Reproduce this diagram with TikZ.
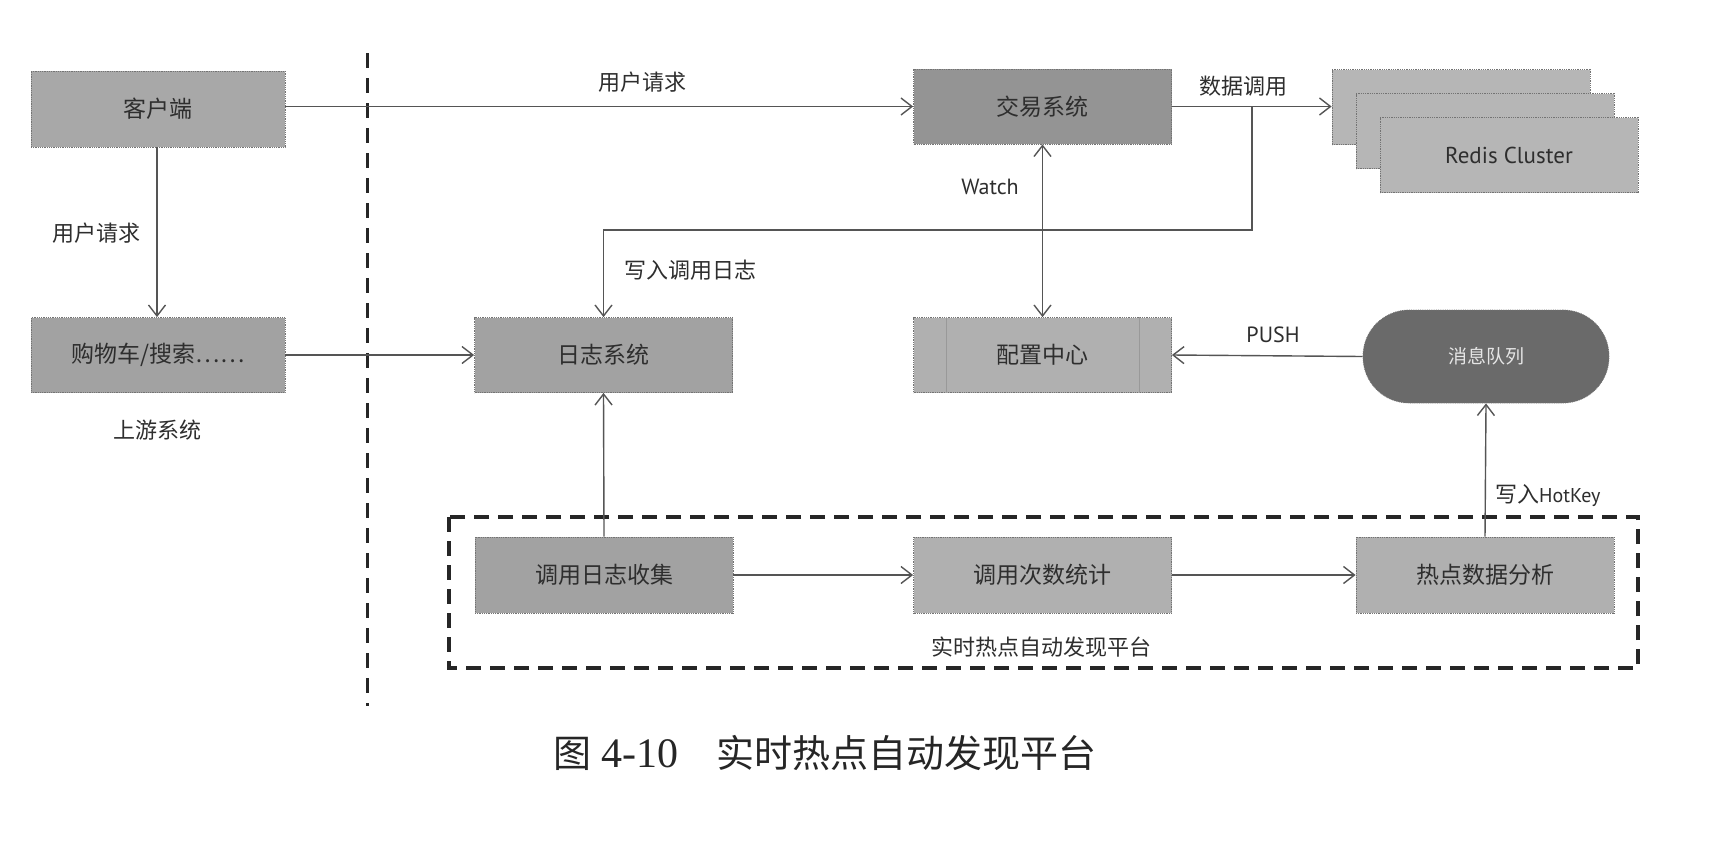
\documentclass[tikz,border=0pt]{standalone}
\usepackage{fontspec}
\setmainfont{Noto Sans CJK SC}
\newfontfamily\latin{PT Sans}
\newfontfamily\capserif{Liberation Serif}
\usetikzlibrary{arrows.meta}

\definecolor{ink}{HTML}{2E2E2E}
\definecolor{edge}{HTML}{555555}
\definecolor{fillA}{HTML}{A8A8A8}
\definecolor{fillB}{HTML}{949494}
\definecolor{fillC}{HTML}{A2A2A2}
\definecolor{fillD}{HTML}{B0B0B0}
\definecolor{fillE}{HTML}{B6B6B6}
\definecolor{fillMQ}{HTML}{6A6A6A}

\tikzset{
  box/.style={draw=black!55, densely dotted, line width=0.8pt,
    minimum width=258pt, minimum height=75pt, inner sep=0pt,
    text=ink, font=\fontsize{23}{26}\selectfont},
  lab/.style={text=ink, inner sep=1pt, font=\fontsize{22}{25}\selectfont},
  conn/.style={draw=edge, line width=1.4pt,
    -{Straight Barb[length=11pt,width=17pt]}},
  both/.style={draw=edge, line width=1.4pt,
    {Straight Barb[length=11pt,width=17pt]}-{Straight Barb[length=11pt,width=17pt]}},
  divider/.style={draw=black!85, line width=3pt, dash pattern=on 15pt off 10pt},
  framebox/.style={draw=black!85, line width=3.5pt, dash pattern=on 15pt off 9pt},
}

\begin{document}
\begin{tikzpicture}[x=1pt,y=-1pt]
\useasboundingbox[fill=white] (0,0) rectangle (1720,854);

% dividing line between the upstream systems and the platform side
\draw[divider] (367,53) -- (367,706);

% dashed frame of the hot-key discovery platform
\draw[framebox] (449,517) rectangle (1638,668);

% upstream side
\node[box, fill=fillA, minimum width=254pt, minimum height=76pt] (client) at (158,109) {客户端};
\node[box, fill=fillC, minimum width=254pt] (cart) at (158,355) {购物车/搜索……};

% core systems
\node[box, fill=fillB] (trade) at (1042.5,106.5) {交易系统};
\node[box, fill=fillC] (log) at (603.5,355) {日志系统};
\node[box, fill=fillD] (config) at (1042.5,355) {配置中心};
\draw[black!40, line width=0.6pt] ([xshift=33pt]config.north west) -- ([xshift=33pt]config.south west);
\draw[black!40, line width=0.6pt] ([xshift=-33pt]config.north east) -- ([xshift=-33pt]config.south east);

% redis cluster, three stacked instances
\node[box, fill=fillE] (r1) at (1461,107) {};
\node[box, fill=fillE] (r2) at (1485,131) {};
\node[box, fill=fillE] (r3) at (1509,155) {\latin Redis Cluster};

% message queue
\node[box, fill=fillMQ, text=black!10, rounded corners=46pt, minimum width=246pt, minimum height=93pt,
  font=\fontsize{19}{22}\selectfont] (mq) at (1486,356.5) {消息队列};

% platform stages
\node[box, fill=fillC, minimum height=76pt] (collect) at (604,575) {调用日志收集};
\node[box, fill=fillD, minimum height=76pt] (count) at (1042.5,575) {调用次数统计};
\node[box, fill=fillD, minimum height=76pt] (hot) at (1485,575) {热点数据分析};

% connectors
\draw[conn] (client.east |- trade.west) -- (trade.west);
\draw[conn] (client.south -| 157,0) -- (cart.north -| 157,0);
\draw[conn] (cart.east) -- (log.west);
\draw[conn] (trade.east) -- (trade.east -| r1.west);
\coordinate (split) at (1252,106.5);
\coordinate (bend) at (603.5,230);
\draw[conn] (split) |- (bend) -- (log.north);
\draw[both] (trade.south) -- (config.north);
\draw[conn] (mq.west) -- (config.east);
\draw[conn] (collect.north) -- (log.south);
\draw[conn] (collect.east) -- (count.west);
\draw[conn] (count.east) -- (hot.west);
\draw[conn] (hot.north) -- (mq.south);

% labels
\node[lab] (lreqtop) at (642,82) {用户请求};
\node[lab] (lreqleft) at (96,233) {用户请求};
\node[lab] (lup) at (157,430) {上游系统};
\node[lab] (ldata) at (1243,86) {数据调用};
\node[lab] (lwatch) at (990,187) {\latin Watch};
\node[lab] (lwrite) at (690,270) {写入调用日志};
\node[lab] (lpush) at (1273,335) {\latin PUSH};
\node[lab, anchor=west] (lhot) at (1494,496) {写入{\latin\fontsize{20}{24}\selectfont HotKey}};
\node[lab] (lplat) at (1041,647) {实时热点自动发现平台};

% figure caption
\node[anchor=west, text=black!85, inner sep=0pt, font=\fontsize{38}{42}\selectfont] (caption) at (553,753)
  {图\hspace{10pt}{\capserif\fontsize{42}{44}\selectfont 4-10}\hspace{38pt}实时热点自动发现平台};
\end{tikzpicture}
\end{document}
